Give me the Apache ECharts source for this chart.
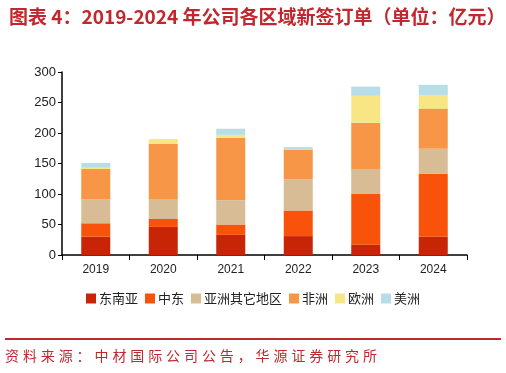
<!DOCTYPE html>
<html><head><meta charset="utf-8">
<script src="https://cdn.jsdelivr.net/npm/echarts@6/dist/echarts.min.js"></script>
<style>html,body{margin:0;padding:0;background:#fff}#c{width:506px;height:373px}</style>
</head><body><div id="c"></div>
<script>
const years = ['2019','2020','2021','2022','2023','2024'];
const seriesNames = ['东南亚','中东','亚洲其它地区','非洲','欧洲','美洲'];
const dongnanya = [30, 46, 33, 31, 17, 30];
const zhongdong = [22, 13, 17, 42, 83, 103];
const yazhouqita = [39, 33, 40, 51, 41, 41];
const feizhou = [50, 90, 102, 49, 76, 66];
const ouzhou = [2, 8, 5, 1, 44, 22];
const meizhou = [8, 0, 10, 3, 15, 17];
const yTicks = [0, 50, 100, 150, 200, 250, 300];
const colors = ['#C82506','#F9530B','#D8BC95','#F79646','#F7E683','#B6DDE8'];
const allData = [dongnanya, zhongdong, yazhouqita, feizhou, ouzhou, meizhou];
const sourceText = '资料来源：中材国际公司公告，华源证券研究所';

const srcChars = Array.from(sourceText).map((ch, i) => ({
  type: 'text', x: 5 + i * 17.9, y: 349,
  style: {text: ch, fill: '#C0282E', fontSize: 14, fontFamily: 'Noto Sans CJK SC'}
}));

const chart = echarts.init(document.getElementById('c'));
chart.setOption({
  animation: false,
  title: {
    text: '图表 4：2019-2024 年公司各区域新签订单（单位：亿元）',
    left: 4, top: 2,
    textStyle: {color: '#C0282E', fontSize: 19, fontWeight: 'bold', fontFamily: 'Noto Sans CJK SC'}
  },
  legend: {
    bottom: 63, left: 'center',
    itemWidth: 10, itemHeight: 10, itemGap: 7,
    icon: 'rect',
    textStyle: {fontSize: 13, color: '#222', fontFamily: 'Noto Sans CJK SC', padding: [0,0,0,-2]},
    data: seriesNames
  },
  grid: {left: 62, right: 39, top: 72, bottom: 118, containLabel: false},
  xAxis: {
    type: 'category', data: years,
    axisLine: {lineStyle: {color: '#000', width: 1.5}},
    axisTick: {show: true, alignWithLabel: false, length: 5, lineStyle: {color: '#000'}},
    axisLabel: {color: '#222', fontSize: 12, margin: 9, fontFamily: 'Arial'}
  },
  yAxis: {
    type: 'value', min: 0, max: 300, interval: 50,
    axisLine: {show: true, lineStyle: {color: '#000', width: 1.5}},
    axisTick: {show: true, length: 4, lineStyle: {color: '#000'}},
    splitLine: {show: false},
    axisLabel: {color: '#222', fontSize: 13, margin: 6, fontFamily: 'Arial'}
  },
  series: seriesNames.map((n, i) => ({
    name: n, type: 'bar', stack: 'total', barWidth: 29,
    itemStyle: {color: colors[i]},
    data: allData[i]
  })),
  graphic: [
    {type: 'line', shape: {x1: 5, y1: 339, x2: 501, y2: 339}, style: {stroke: '#C0282E', lineWidth: 2}}
  ].concat(srcChars)
});
</script></body></html>
